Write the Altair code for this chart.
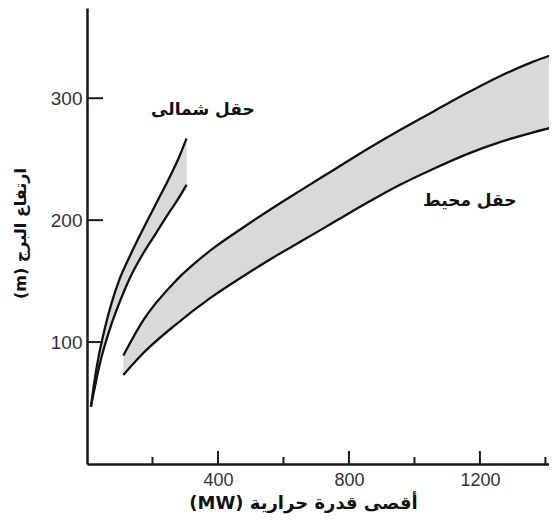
import altair as alt
import pandas as pd

# ---- data ----
north_mw    = [12, 20, 30, 40, 55, 75, 100, 130, 170, 210, 250, 280, 304]
north_upper = [47, 63, 80, 94, 112, 132, 152, 170, 192, 213, 234, 251, 267]
north_lower = [47, 58, 71, 83, 98, 115, 133, 152, 172, 189, 206, 218, 229]

amb_mw    = [111, 172, 274, 376, 477, 579, 650, 752, 854, 956, 1057, 1159, 1261, 1363, 1435]
amb_upper = [89, 118, 151, 175, 194, 212, 224, 241, 258, 274, 289, 304, 318, 330, 337]
amb_lower = [73, 91, 115, 136, 154, 171, 182, 198, 214, 229, 242, 254, 264, 272, 277]

label_text = ["حقل شمالى", "حقل محيط"]
label_mw   = [354, 1169]
label_h    = [290, 216]

x_major = [400, 800, 1200]
x_minor = [200, 600, 1000, 1400]
y_major = [100, 200, 300]

X_MAX, Y_MAX = 1411, 374
W, H = 462, 456

bands = pd.DataFrame(
    [{"field": "north", "mw": m, "upper": u, "lower": l}
     for m, u, l in zip(north_mw, north_upper, north_lower)] +
    [{"field": "ambient", "mw": m, "upper": u, "lower": l}
     for m, u, l in zip(amb_mw, amb_upper, amb_lower)]
)
labels = pd.DataFrame({"text": label_text, "mw": label_mw, "h": label_h})

xs = alt.Scale(domain=[0, X_MAX], nice=False, zero=False)
ys = alt.Scale(domain=[0, Y_MAX], nice=False, zero=False)

x_axis = alt.Axis(
    values=x_major, format="d", ticks=False, tickSize=0, grid=False,
    domainColor="#1a1a1a", domainWidth=2.5,
    labelFont="Liberation Sans", labelFontSize=18, labelColor="#333333",
    labelPadding=7,
    title="(MW) أقصى قدرة حرارية", titleFont="DejaVu Sans", titleFontSize=18,
    titleFontWeight="bold", titleColor="#111111",
    titleX=216, titleY=39, titleAlign="center", titleBaseline="middle",
)
y_axis = alt.Axis(
    values=y_major, ticks=False, tickSize=0, grid=False,
    domainColor="#1a1a1a", domainWidth=2.5,
    labelFont="Liberation Sans", labelFontSize=19, labelColor="#333333",
    labelPadding=5,
    title="(m) ارتفاع البرج", titleFont="DejaVu Sans", titleFontSize=16,
    titleFontWeight="bold", titleColor="#111111",
    titleX=-67, titleY=225, titleAlign="center", titleBaseline="middle", titleAngle=270,
)

base = alt.Chart(bands)

area = base.mark_area(color="#d9d9d9", interpolate="monotone", clip=True).encode(
    x=alt.X("mw:Q", scale=xs, axis=x_axis),
    y=alt.Y("upper:Q", scale=ys, axis=y_axis),
    y2="lower:Q",
    detail="field:N",
)
up_line = base.mark_line(color="#111111", strokeWidth=2.3, interpolate="monotone", clip=True).encode(
    x=alt.X("mw:Q", scale=xs), y=alt.Y("upper:Q", scale=ys), detail="field:N"
)
lo_line = base.mark_line(color="#111111", strokeWidth=2.3, interpolate="monotone", clip=True).encode(
    x=alt.X("mw:Q", scale=xs), y=alt.Y("lower:Q", scale=ys), detail="field:N"
)

xmaj = alt.Chart(pd.DataFrame({"v": x_major})).mark_rule(color="#1a1a1a", strokeWidth=2).encode(
    x=alt.X("v:Q", scale=xs), y=alt.value(H), y2=alt.value(H - 13)
)
xmin = alt.Chart(pd.DataFrame({"v": x_minor})).mark_rule(color="#1a1a1a", strokeWidth=2).encode(
    x=alt.X("v:Q", scale=xs), y=alt.value(H), y2=alt.value(H - 7)
)
ymaj = alt.Chart(pd.DataFrame({"v": y_major})).mark_rule(color="#1a1a1a", strokeWidth=2).encode(
    y=alt.Y("v:Q", scale=ys), x=alt.value(0), x2=alt.value(16)
)

txt = alt.Chart(labels).mark_text(
    font="DejaVu Sans", fontSize=17, fontWeight="bold", color="#111111"
).encode(
    x=alt.X("mw:Q", scale=xs), y=alt.Y("h:Q", scale=ys), text="text:N"
)

chart = alt.layer(area, up_line, lo_line, xmaj, xmin, ymaj, txt).properties(
    width=W, height=H,
    autosize=alt.AutoSizeParams(type="none"),
    padding={"left": 79, "top": 0, "right": 0, "bottom": 50},
    background="white",
).configure_view(stroke=None)

chart.save("out.html", embed_options={"renderer": "svg", "actions": False})
